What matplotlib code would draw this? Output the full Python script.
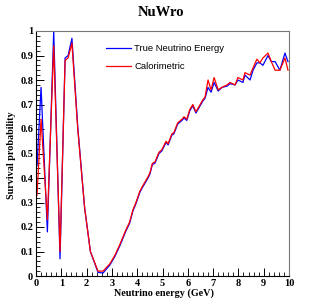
import matplotlib
matplotlib.use('Agg')
import matplotlib.pyplot as plt
from matplotlib.ticker import MultipleLocator

# bin points
energy = [0.04, 0.2, 0.45, 0.7, 0.95, 1.15, 1.27, 1.42, 1.65, 1.92, 2.15, 2.45, 2.65,
          2.92, 3.12, 3.32, 3.44, 3.56, 3.7, 3.83, 3.95, 4.1, 4.2, 4.4, 4.5, 4.6, 4.7,
          4.86, 4.97, 5.14, 5.22, 5.37, 5.45, 5.6, 5.77, 5.85, 5.96, 6.08, 6.2, 6.32,
          6.6, 6.68, 6.8, 6.92, 7.04, 7.2, 7.35, 7.55, 7.67, 7.87, 7.98, 8.18, 8.26,
          8.46, 8.58, 8.73, 8.85, 8.97, 9.17, 9.3, 9.45, 9.64, 9.84, 9.96]
p_true = [0.45, 0.77, 0.18, 1.00, 0.07, 0.89, 0.90, 0.97, 0.61, 0.28, 0.10, 0.015, 0.012,
          0.045, 0.08, 0.125, 0.155, 0.185, 0.215, 0.265, 0.295, 0.34, 0.36, 0.395, 0.415,
          0.455, 0.46, 0.50, 0.51, 0.545, 0.535, 0.575, 0.58, 0.62, 0.635, 0.645, 0.635,
          0.675, 0.695, 0.665, 0.715, 0.725, 0.77, 0.75, 0.79, 0.755, 0.77, 0.775, 0.785,
          0.78, 0.80, 0.79, 0.82, 0.80, 0.84, 0.87, 0.87, 0.86, 0.90, 0.875, 0.875, 0.84,
          0.91, 0.875]
p_calo = [0.33, 0.64, 0.23, 0.94, 0.10, 0.88, 0.89, 0.95, 0.60, 0.28, 0.10, 0.02, 0.02,
          0.05, 0.085, 0.13, 0.16, 0.19, 0.22, 0.27, 0.30, 0.345, 0.365, 0.40, 0.42,
          0.46, 0.465, 0.505, 0.515, 0.55, 0.54, 0.58, 0.585, 0.625, 0.64, 0.65, 0.64,
          0.68, 0.70, 0.67, 0.72, 0.73, 0.80, 0.76, 0.81, 0.76, 0.77, 0.78, 0.79,
          0.78, 0.81, 0.80, 0.83, 0.82, 0.85, 0.885, 0.87, 0.89, 0.91, 0.875, 0.84, 0.84,
          0.89, 0.84]

serif = ['Liberation Serif', 'DejaVu Serif']
sans = ['Liberation Sans', 'DejaVu Sans']

fig = plt.figure(figsize=(3.15, 3.07), dpi=100)
ax = fig.add_axes([36/315, 1-276/307, 253/315, 245/307])

ax.plot(energy, p_true, color='#0000ff', lw=0.9, label='True Neutrino Energy')
ax.plot(energy, p_calo, color='#ff0000', lw=0.9, label='Calorimetric')

ax.set_xlim(0, 10)
ax.set_ylim(0, 1)
ax.xaxis.set_major_locator(MultipleLocator(1))
ax.xaxis.set_minor_locator(MultipleLocator(0.2))
ax.yaxis.set_major_locator(MultipleLocator(0.1))
ax.yaxis.set_minor_locator(MultipleLocator(0.02))
ax.set_yticks([i/10 for i in range(11)])
ax.set_yticklabels(['0'] + ['%.1f' % (i/10) for i in range(1, 10)] + ['1'])

ax.tick_params(which='both', direction='in', top=False, right=False,
               labelsize=7.5, pad=2)
ax.tick_params(which='major', length=6, width=0.7)
ax.tick_params(which='minor', length=3, width=0.6)
for lab in ax.get_xticklabels() + ax.get_yticklabels():
    lab.set_family(serif)
    lab.set_fontweight('bold')

ax.spines['left'].set_color('black')
ax.spines['bottom'].set_color('black')
ax.spines['top'].set_color('#777777')
ax.spines['right'].set_color('#777777')
for s in ax.spines.values():
    s.set_linewidth(0.8)

fig.text(0.51, 1-12/307, 'NuWro', ha='center', va='center', family=serif,
         fontweight='bold', fontsize=10.5)
fig.text(214/315, 1-293/307, 'Neutrino energy (GeV)', ha='right', va='center',
         family=serif, fontweight='bold', fontsize=7.3)
fig.text(12/315, 1-155/307, 'Survival probability', ha='center', va='center',
         rotation=90, family=serif, fontweight='bold', fontsize=7.3)

ax.legend(loc='upper left', bbox_to_anchor=(106/315, 1-44/307),
          bbox_transform=fig.transFigure, frameon=False,
          prop={'family': sans, 'size': 6.8}, handlelength=2.6,
          handletextpad=0.4, labelspacing=1.0, borderpad=0, borderaxespad=0)

fig.savefig('out.png', dpi=100)
